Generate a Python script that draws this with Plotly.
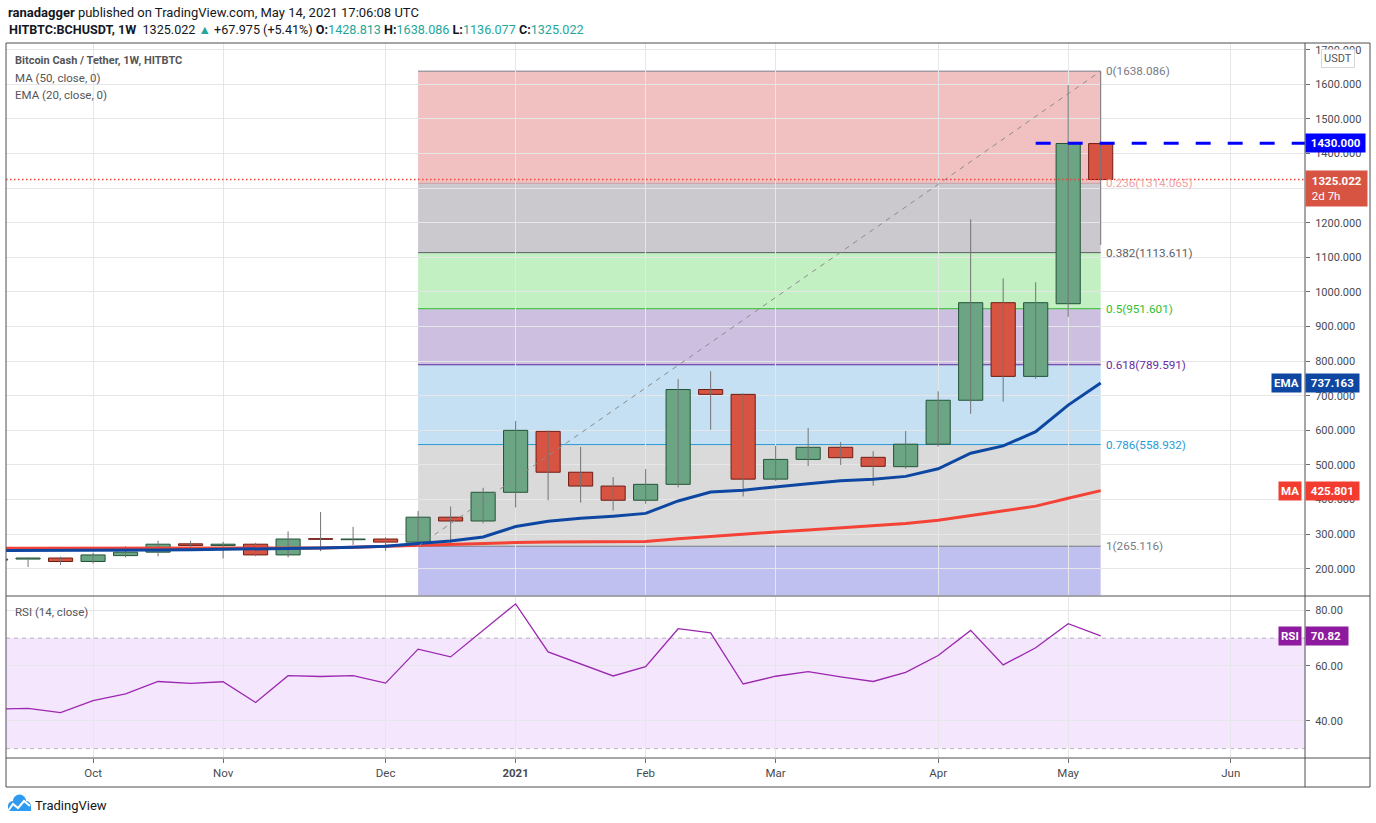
import plotly.graph_objects as go

W, H = 1376, 823

# %% weekly candles, HITBTC BCH/USDT
week = [
    "2020-09-14", "2020-09-21", "2020-09-28", "2020-10-05", "2020-10-12", "2020-10-19", "2020-10-26",
    "2020-11-02", "2020-11-09", "2020-11-16", "2020-11-23", "2020-11-30", "2020-12-07", "2020-12-14",
    "2020-12-21", "2020-12-28", "2021-01-04", "2021-01-11", "2021-01-18", "2021-01-25", "2021-02-01",
    "2021-02-08", "2021-02-15", "2021-02-22", "2021-03-01", "2021-03-08", "2021-03-15", "2021-03-22",
    "2021-03-29", "2021-04-05", "2021-04-12", "2021-04-19", "2021-04-26", "2021-05-03", "2021-05-10",
]
opens = [225, 228, 231, 221, 238, 248, 272, 267, 271, 240, 287, 284, 286, 277, 349, 338, 421, 597,
         479, 439, 398, 444, 718, 704, 459, 516, 551, 522, 495, 560, 687, 969, 756, 966, 1428.813]
highs = [234, 232, 235, 246, 265, 281, 281, 278, 275, 308, 364, 321, 291, 367, 380, 434, 627, 600,
         552, 465, 488, 748, 771, 707, 555, 607, 566, 540, 598, 713, 1210, 1039, 1028, 1598, 1638.086]
lows = [219, 205, 211, 215, 233, 236, 257, 230, 236, 233, 251, 269, 252, 266, 266, 331, 377, 398,
        391, 368, 388, 435, 602, 409, 454, 497, 500, 440, 489, 553, 648, 683, 749, 928, 1136.077]
closes = [228, 231, 221, 240, 248, 271, 267, 271, 240, 286, 285, 286, 277, 349, 338, 421, 600, 479,
          439, 398, 444, 718, 704, 459, 516, 551, 521, 496, 560, 687, 969, 756, 969, 1429, 1325.022]

ma50 = [259, 259, 258, 258, 258, 258, 258, 258, 258, 259, 260, 262, 265, 269, 272, 274, 276, 277,
        277, 278, 279, 287, 294, 300, 306, 312, 318, 324, 331, 340, 353, 366, 381, 404, 425.801]
ema20 = [253, 253, 252, 252, 253, 254, 255, 256, 256, 258, 260, 262, 265, 273, 280, 292, 322, 337,
         346, 352, 360, 396, 422, 427, 437, 446, 454, 459, 467, 489, 534, 555, 596, 673, 737.163]
rsi14 = [44.3, 44.6, 43.0, 47.4, 49.8, 54.3, 53.6, 54.2, 46.7, 56.4, 56.1, 56.4, 53.7, 66.0, 63.2,
         72.8, 82.4, 65.0, 60.7, 56.3, 59.7, 73.4, 71.9, 53.4, 56.2, 57.9, 56.0, 54.3, 57.6, 63.7,
         72.8, 60.3, 66.5, 75.2, 70.82]

# fibonacci retracement drawn from the Dec 14 low to the May 10 high
fib_start, fib_end = "2020-12-14", "2021-05-10"
fib_ratio = ["0", "0.236", "0.382", "0.5", "0.618", "0.786", "1"]
fib_price = [1638.086, 1314.065, 1113.611, 951.601, 789.591, 558.932, 265.116]
fib_line_color = ["#787b86", "#c8a0a4", "#5d5d66", "#2fbf2f", "#5c2a9d", "#2a9bd6", "#787b86"]
fib_text_color = ["#787b86", "#f0a2a2", "#5d5d66", "#2fbf2f", "#6a2ca3", "#2a9bd6", "#787b86"]
fib_fill = ["rgba(210,45,50,0.3)", "rgba(82,75,92,0.3)", "rgba(52,205,52,0.3)", "rgba(88,42,152,0.3)",
            "rgba(58,152,212,0.3)", "rgba(132,132,132,0.3)", "rgba(48,48,205,0.3)"]

level_1430 = 1430.0
level_1430_from = "2021-04-26"
last_price = 1325.022

month_ticks = ["2020-10-05", "2020-11-02", "2020-12-07", "2021-01-04", "2021-02-01", "2021-03-01",
               "2021-04-05", "2021-05-03", "2021-06-07"]
month_text = ["Oct", "Nov", "Dec", "<b>2021</b>", "Feb", "Mar", "Apr", "May", "Jun"]

x_range = ["2020-09-16 06:00", "2021-06-23"]
y_range = [122.7, 1719.5]
rsi_range = [26.6, 85.07]


def px(x):
    """window pixel -> paper x"""
    return min(max(x / W, 0), 1)


def py(y):
    """window pixel -> paper y"""
    return min(max(1 - y / H, 0), 1)


FONT = "Roboto, sans-serif"
GREEN, GREEN_EDGE = "#6ba583", "#225437"
RED, RED_EDGE = "#d75442", "#6f1d14"
GRID = "#e6e6e9"

# %% traces
wick_x, wick_y = [], []
for d, lo, hi in zip(week, lows, highs):
    wick_x += [d, d, None]
    wick_y += [lo, hi, None]

up = [c >= o for o, c in zip(opens, closes)]
body_base = [min(o, c) for o, c in zip(opens, closes)]
body_len = [max(abs(c - o), 1.5) for o, c in zip(opens, closes)]

fig = go.Figure()
fig.add_trace(go.Scatter(x=wick_x, y=wick_y, mode="lines", line=dict(color="#737375", width=1),
                         xaxis="x2", yaxis="y", hoverinfo="skip"))
fig.add_trace(go.Bar(
    x=week, y=body_len, base=body_base, width=5.2 * 86400000, xaxis="x2", yaxis="y",
    marker=dict(color=[GREEN if u else RED for u in up],
                line=dict(color=[GREEN_EDGE if u else RED_EDGE for u in up], width=1)),
))
fig.add_trace(go.Scatter(x=week, y=ma50, mode="lines", line=dict(color="#f44336", width=3),
                         xaxis="x2", yaxis="y"))
fig.add_trace(go.Scatter(x=week, y=ema20, mode="lines", line=dict(color="#0d47a1", width=3),
                         xaxis="x2", yaxis="y"))
# fib trend line
fig.add_trace(go.Scatter(x=[fib_start, fib_end], y=[fib_price[-1], fib_price[0]], mode="lines",
                         line=dict(color="#8c8c8c", width=1, dash="5px,5px"), xaxis="x2", yaxis="y"))
fig.add_trace(go.Scatter(x=week, y=rsi14, mode="lines", line=dict(color="#9c27b0", width=1.3),
                         xaxis="x", yaxis="y2"))

# %% shapes
shapes = []
fib_bounds = fib_price + [y_range[0]]
for i in range(len(fib_fill)):
    shapes.append(dict(type="rect", xref="x2", yref="y", x0=fib_start, x1=fib_end,
                       y0=fib_bounds[i + 1], y1=fib_bounds[i], fillcolor=fib_fill[i],
                       line=dict(width=0), layer="below"))
for p, c in zip(fib_price, fib_line_color):
    shapes.append(dict(type="line", xref="x2", yref="y", x0=fib_start, x1=fib_end, y0=p, y1=p,
                       line=dict(color=c, width=1), layer="below"))

shapes.append(dict(type="rect", xref="x domain", yref="y2", x0=0, x1=1, y0=30, y1=70,
                   fillcolor="#f4e6fd", line=dict(width=0), layer="below"))
for v in (30, 70):
    shapes.append(dict(type="line", xref="x domain", yref="y2", x0=0, x1=1, y0=v, y1=v,
                       line=dict(color="#b5b3bb", width=1, dash="4px,4px"), layer="below"))

shapes.append(dict(type="line", xref="x2 domain", yref="y", x0=0, x1=1, y0=last_price, y1=last_price,
                   line=dict(color="#f0403a", width=1.5, dash="1.5px,2.5px")))
shapes.append(dict(type="line", xref="x2", yref="y", x0=level_1430_from, x1=x_range[1],
                   y0=level_1430, y1=level_1430, line=dict(color="#0000ff", width=3, dash="15px,17px")))

# frame
frame = "#4f4f55"
shapes.append(dict(type="rect", xref="paper", yref="paper", x0=px(6), x1=px(1370), y0=py(787),
                   y1=py(43), line=dict(color=frame, width=1)))
for yy in (596, 758):
    shapes.append(dict(type="line", xref="paper", yref="paper", x0=px(6), x1=px(1370), y0=py(yy),
                       y1=py(yy), line=dict(color=frame, width=1)))
shapes.append(dict(type="line", xref="paper", yref="paper", x0=px(1305), x1=px(1305), y0=py(787), y1=py(43),
                   line=dict(color=frame, width=1)))

# TradingView logo
logo = "#2e9bf0"
for cx, cy, r in ((13, 806, 5), (19.5, 801, 6.5), (26, 806, 5)):
    shapes.append(dict(type="circle", xref="paper", yref="paper", x0=px(cx - r), x1=px(cx + r),
                       y0=py(cy + r), y1=py(cy - r), fillcolor=logo, line=dict(width=0)))
shapes.append(dict(type="rect", xref="paper", yref="paper", x0=px(8), x1=px(31), y0=py(811), y1=py(805),
                   fillcolor=logo, line=dict(width=0)))
zz = [(8, 811), (13, 804), (18, 808), (24, 801), (30, 806)]
shapes.append(dict(type="path", xref="paper", yref="paper",
                   path="M " + " L ".join(f"{px(a)},{py(b)}" for a, b in zz),
                   line=dict(color="white", width=2)))

# %% annotations
ann = []


def text(x, y, t, size=13, color="#131722", anchor="left", **kw):
    ann.append(dict(xref="paper", yref="paper", x=px(x), y=py(y), text=t, showarrow=False,
                    xanchor=anchor, yanchor="middle", font=dict(family=FONT, size=size, color=color), **kw))


TEAL = "#26a69a"
text(7, 12, "<b>ranadagger</b> published on TradingView.com, May 14, 2021 17:06:08 UTC", size=13,
     borderpad=0)
text(7, 29, "<b>HITBTC:BCHUSDT, 1W</b>  1325.022 <span style='color:%s'>▲</span> +67.975 (+5.41%%) "
     "<b>O:</b><span style='color:%s'>1428.813</span> <b>H:</b><span style='color:%s'>1638.086</span> "
     "<b>L:</b><span style='color:%s'>1136.077</span> <b>C:</b><span style='color:%s'>1325.022</span>"
     % (TEAL, TEAL, TEAL, TEAL, TEAL), size=12.6)
text(13, 60, "<b>Bitcoin Cash / Tether, 1W, HITBTC</b>", size=11, color="#555559")
text(13, 78, "MA (50, close, 0)", size=11.5, color="#555559")
text(13, 95, "EMA (20, close, 0)", size=11.5, color="#555559")
text(13, 612, "RSI (14, close)", size=11.5, color="#555559")
text(33, 805, "TradingView", size=13, color="#131722")

for r, p, c in zip(fib_ratio, fib_price, fib_text_color):
    ann.append(dict(xref="x2", yref="y", x=fib_end, y=p, text=f"{r}({p:.3f})", showarrow=False,
                    xanchor="left", yanchor="middle", xshift=3,
                    font=dict(family=FONT, size=11.7, color=c)))


def tag(y, t, bg, yref="y", anchor="left", x=1305, size=11.5):
    ann.append(dict(xref="paper", yref=yref, x=px(x), y=y, text=t, showarrow=False, xanchor=anchor,
                    yanchor="middle", bgcolor=bg, borderpad=2, align="left",
                    font=dict(family=FONT, size=size, color="white")))


tag(level_1430, " <b>1430.000</b> ", "#0000ff")
ann.append(dict(xref="paper", yref="y", x=px(1305), y=last_price, text=" <b>1325.022</b> <br> 2d 7h",
                showarrow=False, xanchor="left", yanchor="top", yshift=9, bgcolor=RED, borderpad=3,
                align="left", font=dict(family=FONT, size=11.5, color="white")))
tag(ema20[-1], " <b>%.3f</b> " % ema20[-1], "#0d47a1")
tag(ema20[-1], "<b>EMA</b>", "#0d47a1", anchor="right", x=1302)
tag(ma50[-1], " <b>%.3f</b> " % ma50[-1], "#f23c30")
tag(ma50[-1], "<b>MA</b>", "#f23c30", anchor="right", x=1302)
tag(rsi14[-1], " <b>%.2f</b>  " % rsi14[-1], "#8e1a9f", yref="y2")
tag(rsi14[-1], "<b>RSI</b>", "#8e1a9f", yref="y2", anchor="right", x=1302)
ann.append(dict(xref="paper", yref="paper", x=px(1338), y=py(59), text="USDT", showarrow=False,
                xanchor="center", yanchor="middle", bgcolor="white", bordercolor="#d6d6dc", borderwidth=1,
                borderpad=2, font=dict(family=FONT, size=11, color="#555559")))

# %% layout
axis_font = dict(family=FONT, size=11, color="#4a4a50")
fig.update_layout(
    width=W, height=H, margin=dict(l=0, r=0, t=0, b=0),
    paper_bgcolor="white", plot_bgcolor="white", showlegend=False, barmode="overlay",
    shapes=shapes, annotations=ann,
    xaxis=dict(type="date", domain=[px(6), px(1305)], range=x_range, anchor="y2",
               tickmode="array", tickvals=month_ticks, ticktext=month_text, showgrid=True, gridcolor=GRID,
               ticks="outside", ticklen=4, tickcolor="#6a6a70",
               tickfont=dict(family=FONT, size=11.5, color="#4a4a50"),
               zeroline=False, rangeslider=dict(visible=False)),
    xaxis2=dict(type="date", domain=[px(6), px(1305)], matches="x", anchor="y",
                tickmode="array", tickvals=month_ticks, showticklabels=False, showgrid=True,
                gridcolor=GRID, zeroline=False),
    yaxis=dict(domain=[py(595.5), py(43)], range=y_range, anchor="x2", side="right",
               tick0=0, dtick=100, tickformat=".3f", showgrid=True, gridcolor=GRID,
               ticks="outside", ticklen=4, tickcolor="#6a6a70", tickfont=axis_font, zeroline=False,
               ticklabelstandoff=3),
    yaxis2=dict(domain=[py(758), py(596.5)], range=rsi_range, anchor="x", side="right",
                tickmode="array", tickvals=[40, 60, 80], ticktext=["40.00", "60.00", "80.00"],
                showgrid=True, gridcolor=GRID, ticks="outside", ticklen=4, tickcolor="#6a6a70",
                tickfont=axis_font, zeroline=False, ticklabelstandoff=3),
)

# drop the browser's default 8px body margin so the figure fills the window exactly
fig.write_html("out.html", config={"displayModeBar": False},
               post_script="document.body.style.margin = '0px';")
